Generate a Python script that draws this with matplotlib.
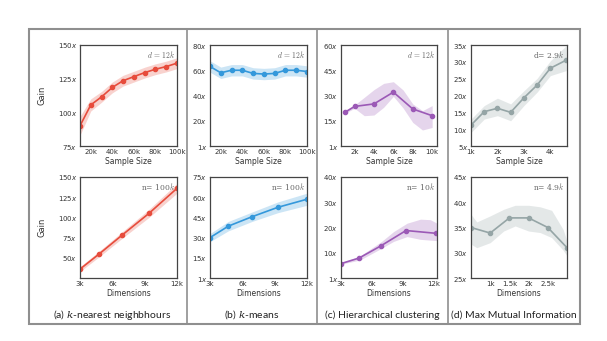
import matplotlib
matplotlib.use('Agg')
from matplotlib import pyplot as plt
from matplotlib.lines import Line2D
from matplotlib.patches import Rectangle

W, H = 607, 341

# (a) k-nearest neighbours
knn_n = [10, 20, 30, 40, 50, 60, 70, 80, 90, 100]
knn_n_gain = [90, 105.5, 111.5, 118.5, 123.5, 126.5, 129.5, 132, 134, 136.5]
knn_n_lo = [83, 101, 107.5, 114.5, 119.5, 122.5, 125.5, 128, 130, 132.5]
knn_n_hi = [97, 110, 115.5, 122.5, 127.5, 130.5, 133.5, 136, 138, 140.5]
knn_d = [3, 4.8, 6.9, 9.4, 12]
knn_d_gain = [36, 55, 78, 105, 136]
knn_d_lo = [33, 51.5, 74, 100, 130]
knn_d_hi = [39, 58.5, 82, 110, 142]

# (b) k-means
km_n = [10, 20, 30, 40, 50, 60, 70, 80, 90, 100]
km_n_gain = [63, 58, 60, 60, 57.5, 57, 57.5, 60, 60, 59]
km_n_lo = [58.5, 53.5, 55.5, 55.5, 53, 52.5, 53, 55.5, 55.5, 54.5]
km_n_hi = [67.5, 62.5, 64.5, 64.5, 62, 61.5, 62, 64.5, 64.5, 63.5]
km_d = [3, 4.7, 6.9, 9.3, 12]
km_d_gain = [30, 38.5, 45.5, 52.5, 58.5]
km_d_lo = [27, 35, 42, 48.5, 54]
km_d_hi = [33, 42, 49, 56.5, 63]

# (c) Hierarchical clustering
hc_n = [1, 2, 4, 6, 8, 10]
hc_n_gain = [20, 23.5, 25, 32, 22, 18]
hc_n_band_x = [1, 2, 3, 4, 5, 6, 7, 8, 9, 10]
hc_n_lo = [19.4, 22.4, 18, 18.4, 23, 29.5, 22.6, 14, 9.5, 11]
hc_n_hi = [21, 24.4, 28.9, 33.5, 37.2, 38.2, 33.3, 25, 21, 24]
hc_d = [3, 4.75, 6.85, 9.3, 12.2]
hc_d_gain = [5.7, 7.9, 12.7, 18.8, 17.7]
hc_d_band_x = [3, 4.83, 6.9, 8.1, 9.4, 10.7, 11.65, 12.3]
hc_d_lo = [5.5, 7.1, 11.7, 14.5, 16.4, 15.3, 15, 14.8]
hc_d_hi = [6, 8.7, 14.4, 18.4, 21.7, 23.3, 23.1, 21.7]

# (d) Max Mutual Information
mmi_n = [1, 1.5, 2, 2.5, 3, 3.5, 4, 4.6]
mmi_n_gain = [11.2, 15.2, 16.2, 15, 19.3, 23.1, 28.1, 30.5]
mmi_n_lo = [9, 13, 14, 12.5, 17, 21, 25.9, 27.4]
mmi_n_hi = [13, 17, 19.2, 17.5, 21.4, 25.1, 30.3, 34.8]
mmi_d = [0.5, 1, 1.5, 2, 2.5, 3]
mmi_d_gain = [35, 33.9, 36.9, 36.9, 35, 31]
mmi_d_band_x = [0.5, 0.65, 1.0, 1.35, 1.65, 2.0, 2.3, 2.6, 2.9, 3.0]
mmi_d_lo = [31.7, 31, 32, 34.3, 35.3, 34.3, 34, 33, 30.5, 29.4]
mmi_d_hi = [37.6, 36.1, 37.3, 38.6, 39.4, 39.4, 39.1, 38.4, 34.6, 32.3]

RED, BLUE, PURPLE, GREY = '#e74c3c', '#3498db', '#9b59b6', '#95a5a6'

fig = plt.figure(figsize=(W / 100, H / 100), dpi=100)


def rect(x0, x1, y0, y1):
    return [x0 / W, 1 - y1 / H, (x1 - x0) / W, (y1 - y0) / H]


def panel(box, x, y, color, band_x, lo, hi, xlim, ylim, yticks, xticks, xticklabels, xlabel, note):
    ax = fig.add_axes(box)
    ax.fill_between(band_x, lo, hi, color=color, alpha=0.25, lw=0)
    ax.plot(x, y, color=color, lw=1.2, marker='o', ms=3)
    ax.set_xlim(*xlim)
    ax.set_ylim(*ylim)
    ax.set_yticks(yticks)
    ax.set_yticklabels([('1' if v == 0 else str(v)) + '$x$' for v in yticks])
    ax.set_xticks(xticks)
    ax.set_xticklabels(xticklabels)
    ax.set_xlabel(xlabel, fontsize=5.5, labelpad=1.5, color='#333333')
    ax.tick_params(length=0, labelsize=5, pad=2, colors='#333333')
    for s in ax.spines.values():
        s.set_color('#444444')
        s.set_linewidth(0.9)
    ax.text(0.98, 0.96, note, transform=ax.transAxes, ha='right', va='top',
            fontsize=5.5, color='#666666', family='DejaVu Serif', math_fontfamily='cm')
    return ax


cols = [(80, 177), (210, 307), (341, 437), (471, 567)]
top, bot = (45, 146), (177, 278)

ax = panel(rect(*cols[0], *top), knn_n, knn_n_gain, RED, knn_n, knn_n_lo, knn_n_hi,
           (10, 100), (75, 150), [75, 100, 125, 150], [20, 40, 60, 80, 100],
           ['20k', '40k', '60k', '80k', '100k'], 'Sample Size', '$d\\,=\\,12k$')
ax.set_ylabel('Gain', fontsize=6, color='#333333', labelpad=8)
ax = panel(rect(*cols[0], *bot), knn_d, knn_d_gain, RED, knn_d, knn_d_lo, knn_d_hi,
           (3, 12), (25, 150), [50, 75, 100, 125, 150], [3, 6, 9, 12],
           ['3k', '6k', '9k', '12k'], 'Dimensions', 'n= 100$k$')
ax.set_ylabel('Gain', fontsize=6, color='#333333', labelpad=8)

panel(rect(*cols[1], *top), km_n, km_n_gain, BLUE, km_n, km_n_lo, km_n_hi,
      (10, 100), (0, 80), [0, 20, 40, 60, 80], [20, 40, 60, 80, 100],
      ['20k', '40k', '60k', '80k', '100k'], 'Sample Size', '$d\\,=\\,12k$')
panel(rect(*cols[1], *bot), km_d, km_d_gain, BLUE, km_d, km_d_lo, km_d_hi,
      (3, 12), (0, 75), [0, 15, 30, 45, 60, 75], [3, 6, 9, 12],
      ['3k', '6k', '9k', '12k'], 'Dimensions', 'n= 100$k$')

panel(rect(*cols[2], *top), hc_n, hc_n_gain, PURPLE, hc_n_band_x, hc_n_lo, hc_n_hi,
      (0.6, 10.5), (0, 60), [0, 15, 30, 45, 60], [2, 4, 6, 8, 10],
      ['2k', '4k', '6k', '8k', '10k'], 'Sample Size', '$d\\,=\\,12k$')
panel(rect(*cols[2], *bot), hc_d, hc_d_gain, PURPLE, hc_d_band_x, hc_d_lo, hc_d_hi,
      (3, 12.3), (0, 40), [0, 10, 20, 30, 40], [3, 6, 9, 12],
      ['3k', '6k', '9k', '12k'], 'Dimensions', 'n= 10$k$')

panel(rect(*cols[3], *top), mmi_n, mmi_n_gain, GREY, mmi_n, mmi_n_lo, mmi_n_hi,
      (1, 4.63), (5, 35), [5, 10, 15, 20, 25, 30, 35], [1, 2, 3, 4],
      ['1k', '2k', '3k', '4k'], 'Sample Size', 'd= 2.9$k$')
panel(rect(*cols[3], *bot), mmi_d, mmi_d_gain, GREY, mmi_d_band_x, mmi_d_lo, mmi_d_hi,
      (0.5, 3.0), (25, 45), [25, 30, 35, 40, 45], [1, 1.5, 2, 2.5],
      ['1k', '1.5k', '2k', '2.5k'], 'Dimensions', 'n= 4.9$k$')

# frame and separators
fig.add_artist(Rectangle((29 / W, 1 - 324 / H), (580 - 29) / W, (324 - 29) / H,
                         transform=fig.transFigure, fill=False, ec='#8f8f8f', lw=1.5))
for sx in [187, 317, 448]:
    fig.add_artist(Line2D([sx / W, sx / W], [1 - 324 / H, 1 - 29 / H],
                          transform=fig.transFigure, color='#8f8f8f', lw=1.2))

captions = ['(a) $k$-nearest neighbhours', '(b) $k$-means',
            '(c) Hierarchical clustering', '(d) Max Mutual Information']
for cx, cap in zip([112, 252, 382, 514], captions):
    fig.text(cx / W, 1 - 315 / H, cap, ha='center', va='center', fontsize=7.5,
             color='#222222', family='Lato', math_fontfamily='dejavuserif')

plt.savefig('out.png', dpi=100)
